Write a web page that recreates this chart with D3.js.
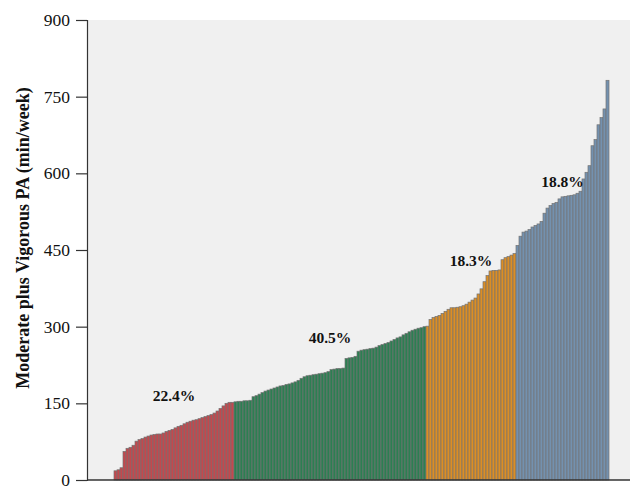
<!DOCTYPE html>
<html>
<head>
<meta charset="utf-8">
<script src="https://cdn.jsdelivr.net/npm/d3@7"></script>
<style>
  html, body { margin: 0; padding: 0; background: #fff; }
  svg { display: block; }
</style>
</head>
<body>
<svg id="chart" width="630" height="486"></svg>
<script>
// Weekly moderate-plus-vigorous physical activity, participants sorted ascending,
// grouped by activity band.
const lowGroup = [18, 20, 24, 56, 62, 64, 68, 76, 79, 81, 84, 86, 88, 89, 90, 90, 92, 95, 97, 99,
  102, 105, 107, 110, 113, 115, 117, 118, 120, 122, 124, 126, 128, 131, 135, 140, 145, 150, 152, 152];
const midGroup = [153, 154, 154, 155, 155, 156, 163, 165, 168, 171, 174, 176, 178, 180, 182, 184,
  185, 187, 188, 190, 192, 195, 199, 202, 204, 205, 206, 207, 208, 209, 210, 212, 216, 217, 218,
  218, 219, 238, 239, 240, 242, 252, 254, 255, 256, 257, 258, 260, 263, 265, 267, 269, 272, 275,
  278, 280, 284, 287, 290, 293, 295, 297, 298, 300];
const highGroup = [301, 314, 318, 320, 322, 326, 330, 334, 337, 337, 338, 339, 341, 344, 348, 352,
  356, 364, 374, 388, 400, 409, 410, 410, 411, 431, 435, 437, 440, 443];
const topGroup = [459, 477, 485, 487, 490, 495, 498, 501, 506, 522, 532, 537, 541, 543, 550, 554,
  555, 556, 557, 558, 561, 565, 589, 602, 615, 654, 666, 695, 709, 726, 782];

const groupShares = ["22.4%", "40.5%", "18.3%", "18.8%"];
const groupColors = ["#c4484d", "#2c7f52", "#dc8e24", "#7391af"];
const yTicks = [0, 150, 300, 450, 600, 750, 900];
const yTitle = "Moderate plus Vigorous PA (min/week)";

const groups = [lowGroup, midGroup, highGroup, topGroup];
const bars = [];
groups.forEach((g, gi) => g.forEach(v => bars.push({ i: bars.length, v, g: gi })));

const svg = d3.select("#chart");
const plot = { left: 87, right: 630, top: 20, bottom: 480 };
const barSpan = [114, 609];

const y = d3.scaleLinear().domain([0, 900]).range([plot.bottom, plot.top]);
const x = d3.scaleBand().domain(bars.map(d => d.i)).range(barSpan).padding(0);

// plot background
svg.append("rect")
  .attr("x", plot.left).attr("y", plot.top)
  .attr("width", plot.right - plot.left).attr("height", plot.bottom - plot.top)
  .attr("fill", "#f0f0f0");

// bars
svg.append("g").selectAll("rect").data(bars).join("rect")
  .attr("x", d => x(d.i))
  .attr("y", d => y(d.v))
  .attr("width", x.bandwidth())
  .attr("height", d => y(0) - y(d.v))
  .attr("fill", d => groupColors[d.g])
  .attr("stroke", "#747474")
  .attr("stroke-width", 0.7);

// group share labels, centred over each group
const labelFont = "'Liberation Serif', 'Times New Roman', serif";
const labelBaselines = [401, 343, 266, 187];
let start = 0;
groups.forEach((g, gi) => {
  const i0 = start, i1 = start + g.length - 1;
  start += g.length;
  const cx = (x(i0) + x(i1) + x.bandwidth()) / 2;
  svg.append("text")
    .attr("x", cx)
    .attr("y", labelBaselines[gi])
    .attr("text-anchor", "middle")
    .attr("font-family", labelFont)
    .attr("font-weight", "bold")
    .attr("font-size", 15.5)
    .attr("fill", "#111")
    .text(groupShares[gi]);
});

// y axis
const yAxis = d3.axisLeft(y).tickValues(yTicks).tickSize(11).tickPadding(6);
const gy = svg.append("g").attr("transform", `translate(${plot.left},0)`).call(yAxis);
gy.select(".domain").attr("stroke", "#333").attr("stroke-width", 1.2);
gy.selectAll(".tick line").attr("stroke", "#333").attr("stroke-width", 1.2);
gy.selectAll(".tick text")
  .attr("font-family", labelFont)
  .attr("font-size", 17.5)
  .attr("fill", "#111");

// x axis baseline
svg.append("line")
  .attr("x1", plot.left).attr("x2", plot.right)
  .attr("y1", y(0)).attr("y2", y(0))
  .attr("stroke", "#333").attr("stroke-width", 1.5);

// y axis title
svg.append("text")
  .attr("transform", "translate(29,238) rotate(-90)")
  .attr("text-anchor", "middle")
  .attr("font-family", labelFont)
  .attr("font-weight", "bold")
  .attr("font-size", 18)
  .attr("fill", "#111")
  .text(yTitle);
</script>
</body>
</html>
